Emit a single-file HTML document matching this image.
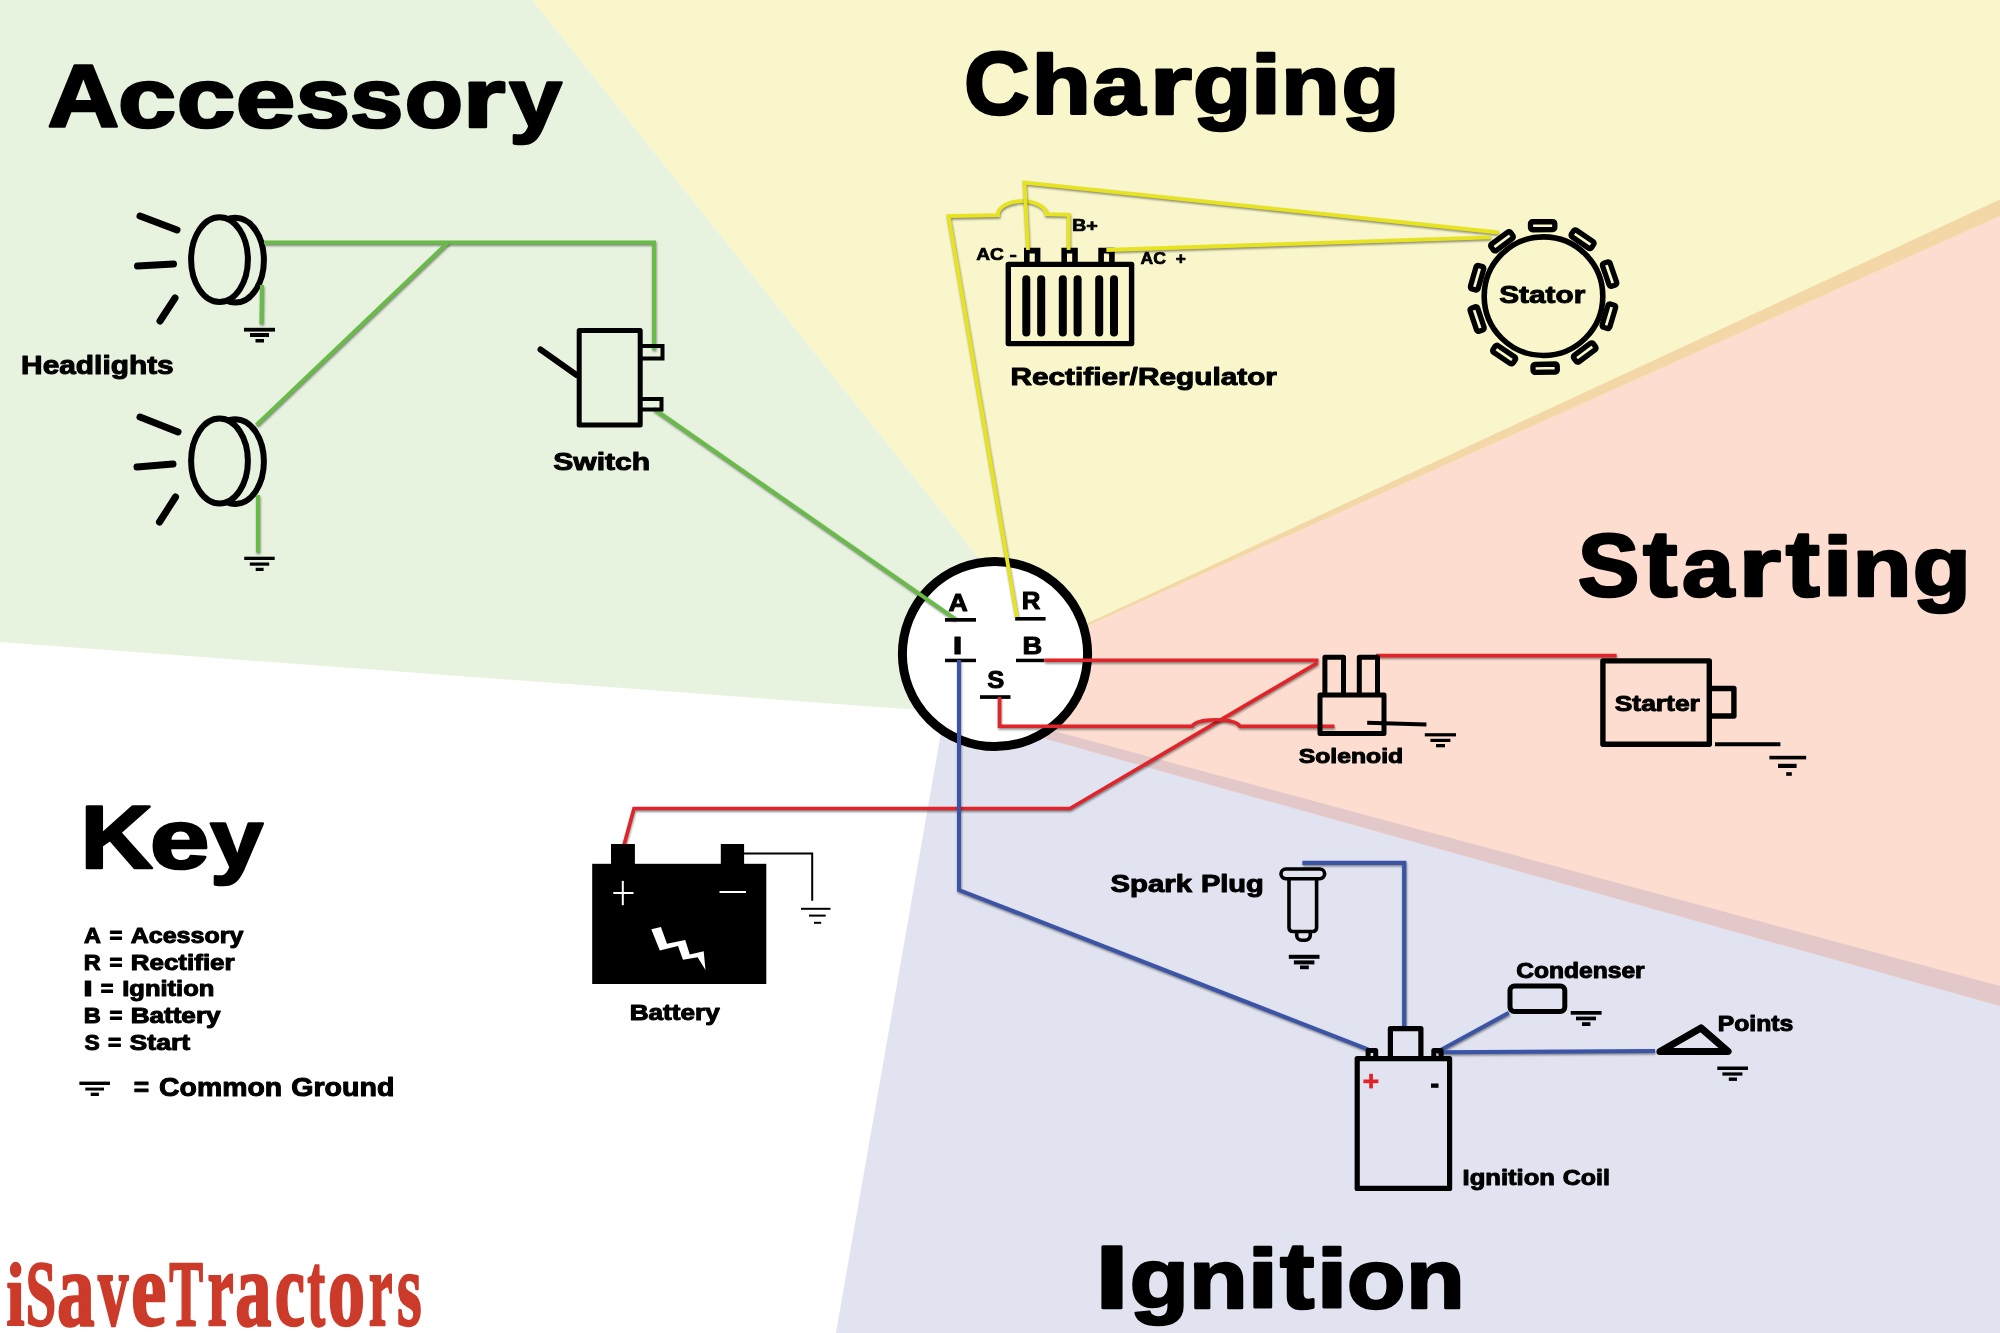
<!DOCTYPE html>
<html><head><meta charset="utf-8"><title>Tractor Wiring Diagram</title>
<style>html,body{margin:0;padding:0;background:#fff;}svg{display:block;will-change:transform;}</style></head>
<body><svg width="2000" height="1333" viewBox="0 0 2000 1333">
<rect width="2000" height="1333" fill="#fff"/>
<polygon points="835.93,1333.00 2000.00,1333.00 2000.00,986.03 1000.00,716.52 946.70,700.00" fill="#e1e3f1"/>
<polygon points="2000.00,199.49 2000.00,1006.00 1000.00,726.00 1040.00,645.22" fill="#fcddd0"/>
<polygon points="532.00,0.00 2000.00,0.00 2000.00,216.00 1040.00,646.95 1028.00,620.00" fill="#f8f6ca"/>
<polygon points="0.00,0.00 532.00,0.00 1028.00,620.00 950.00,712.30 0.00,642.00" fill="#e7f3df"/>
<polygon points="1040.00,645.22 2000.00,199.49 2000.00,216.00 1040.00,646.95" fill="#f4d7a7"/>
<polygon points="1000.00,716.52 2000.00,986.03 2000.00,1006.00 1000.00,726.00" fill="#e3c8ca"/>
<defs><filter id="blur" filterUnits="userSpaceOnUse" x="-10" y="-10" width="2020" height="1353"><feGaussianBlur stdDeviation="0.8"/></filter></defs>
<circle cx="995" cy="654" r="92.6" stroke="#000" stroke-width="9" fill="#fff"/>
<ellipse cx="235.5" cy="260.20000000000005" rx="28.4" ry="42.4" stroke="#000" stroke-width="6" fill="none"/>
<ellipse cx="219.5" cy="259.6" rx="28.4" ry="42.4" stroke="#000" stroke-width="6" fill="#e7f3df"/>
<path d="M140,216 L177,230" stroke="#000" stroke-width="7" fill="none" stroke-linecap="round"/>
<path d="M137.5,266 L173.5,264" stroke="#000" stroke-width="7" fill="none" stroke-linecap="round"/>
<path d="M160,321 L175,298" stroke="#000" stroke-width="7" fill="none" stroke-linecap="round"/>
<ellipse cx="235.5" cy="461.6" rx="28.4" ry="42.4" stroke="#000" stroke-width="6" fill="none"/>
<ellipse cx="219.5" cy="461.0" rx="28.4" ry="42.4" stroke="#000" stroke-width="6" fill="#e7f3df"/>
<path d="M140,417 L178,432" stroke="#000" stroke-width="7" fill="none" stroke-linecap="round"/>
<path d="M137,467 L173,464" stroke="#000" stroke-width="7" fill="none" stroke-linecap="round"/>
<path d="M159.5,522 L175.5,497" stroke="#000" stroke-width="7" fill="none" stroke-linecap="round"/>
<path d="M264,242.5 H654 V350" stroke="#000" stroke-opacity="0.45" stroke-width="4" fill="none" transform="translate(0.6,1.6)" stroke-linejoin="miter" filter="url(#blur)"/>
<path d="M264,242.5 H654 V350" stroke="#69ba48" stroke-width="4" fill="none" stroke-linejoin="miter"/>
<path d="M448,242.5 L256.5,425" stroke="#000" stroke-opacity="0.45" stroke-width="4" fill="none" transform="translate(0.6,1.6)" stroke-linejoin="miter" filter="url(#blur)"/>
<path d="M448,242.5 L256.5,425" stroke="#69ba48" stroke-width="4" fill="none" stroke-linejoin="miter"/>
<path d="M262,285 L261.5,324" stroke="#000" stroke-opacity="0.45" stroke-width="4" fill="none" transform="translate(0.6,1.6)" stroke-linejoin="miter" filter="url(#blur)"/>
<path d="M262,285 L261.5,324" stroke="#69ba48" stroke-width="4" fill="none" stroke-linejoin="miter"/>
<path d="M258,495 L258,552.5" stroke="#000" stroke-opacity="0.45" stroke-width="4" fill="none" transform="translate(0.6,1.6)" stroke-linejoin="miter" filter="url(#blur)"/>
<path d="M258,495 L258,552.5" stroke="#69ba48" stroke-width="4" fill="none" stroke-linejoin="miter"/>
<path d="M654,409 L955.8,619.3" stroke="#000" stroke-opacity="0.45" stroke-width="4" fill="none" transform="translate(0.6,1.6)" stroke-linejoin="miter" filter="url(#blur)"/>
<path d="M654,409 L955.8,619.3" stroke="#69ba48" stroke-width="4" fill="none" stroke-linejoin="miter"/>
<rect x="244.00" y="327.80" width="31.00" height="3.80" fill="#000" />
<rect x="250.00" y="333.00" width="19.00" height="4.00" fill="#000" />
<rect x="255.50" y="339.00" width="8.50" height="3.50" fill="#000" />
<rect x="244.20" y="556.70" width="30.50" height="3.30" fill="#000" />
<rect x="249.80" y="562.50" width="19.40" height="3.20" fill="#000" />
<rect x="255.70" y="567.80" width="7.90" height="3.20" fill="#000" />
<path d="M579.2,330.5 H640.2 V425 H579.2 Z" stroke="#000" stroke-width="5" fill="none" stroke-linejoin="round"/>
<path d="M540.5,349.5 L576.5,375" stroke="#000" stroke-width="6" fill="none" stroke-linecap="round"/>
<path d="M640.2,346 H662.5 V358.5 H640.2" stroke="#000" stroke-width="4" fill="none" />
<path d="M640.2,399 H661.5 V409.5 H640.2" stroke="#000" stroke-width="4" fill="none" />
<rect x="945.00" y="618.00" width="31.00" height="3.70" fill="#000" />
<rect x="1015.20" y="617.00" width="30.40" height="3.60" fill="#000" />
<rect x="945.00" y="658.70" width="31.00" height="3.50" fill="#000" />
<rect x="1016.00" y="658.70" width="28.40" height="3.50" fill="#000" />
<rect x="980.00" y="695.20" width="30.50" height="3.70" fill="#000" />
<path d="M1008.3,264.4 H1131.6 V343.6 H1008.3 Z" stroke="#000" stroke-width="5.4" fill="none" stroke-linejoin="round"/>
<path d="M1026.8,263.5 V250.6 H1037.6 V263.5" stroke="#000" stroke-width="5.6" fill="none" />
<path d="M1064.2,263.5 V250.6 H1075.0 V263.5" stroke="#000" stroke-width="5.6" fill="none" />
<path d="M1101.1,263.5 V250.6 H1111.8999999999999 V263.5" stroke="#000" stroke-width="5.6" fill="none" />
<path d="M1026.3,279.2 V332.4" stroke="#000" stroke-width="8" fill="none" stroke-linecap="round"/>
<path d="M1041.2,279.2 V332.4" stroke="#000" stroke-width="8" fill="none" stroke-linecap="round"/>
<path d="M1062.8,279.2 V332.4" stroke="#000" stroke-width="8" fill="none" stroke-linecap="round"/>
<path d="M1077.6,279.2 V332.4" stroke="#000" stroke-width="8" fill="none" stroke-linecap="round"/>
<path d="M1099.2,279.2 V332.4" stroke="#000" stroke-width="8" fill="none" stroke-linecap="round"/>
<path d="M1114,279.2 V332.4" stroke="#000" stroke-width="8" fill="none" stroke-linecap="round"/>
<path d="M1016.8,617 L948.6,216.2 L998,215.2 A24.2,13.6 0 0 1 1046.4,214.2 L1068.6,214.8 V250" stroke="#000" stroke-opacity="0.45" stroke-width="3.8" fill="none" transform="translate(0.6,1.6)" stroke-linejoin="miter" filter="url(#blur)"/>
<path d="M1016.8,617 L948.6,216.2 L998,215.2 A24.2,13.6 0 0 1 1046.4,214.2 L1068.6,214.8 V250" stroke="#e7e41f" stroke-width="3.8" fill="none" stroke-linejoin="miter"/>
<path d="M1028,250 L1024.5,182.5 L1498.5,232.5" stroke="#000" stroke-opacity="0.45" stroke-width="3.8" fill="none" transform="translate(0.6,1.6)" stroke-linejoin="miter" filter="url(#blur)"/>
<path d="M1028,250 L1024.5,182.5 L1498.5,232.5" stroke="#e7e41f" stroke-width="3.8" fill="none" stroke-linejoin="miter"/>
<path d="M1106.4,250 L1490.6,237.3" stroke="#000" stroke-opacity="0.45" stroke-width="3.8" fill="none" transform="translate(0.6,1.6)" stroke-linejoin="miter" filter="url(#blur)"/>
<path d="M1106.4,250 L1490.6,237.3" stroke="#e7e41f" stroke-width="3.8" fill="none" stroke-linejoin="miter"/>
<circle cx="1543.5" cy="296.2" r="59.3" stroke="#000" stroke-width="5.6" fill="none"/>
<rect x="-12.15" y="-75.20" width="24.3" height="8" rx="2" stroke="#000" stroke-width="5.3" fill="none" transform="translate(1543.4,296.85) rotate(-0.6)"/>
<rect x="-12.15" y="-73.70" width="24.3" height="8" rx="2" stroke="#000" stroke-width="5.3" fill="none" transform="translate(1543.4,296.85) rotate(34.2)"/>
<rect x="-12.15" y="-74.00" width="24.3" height="8" rx="2" stroke="#000" stroke-width="5.3" fill="none" transform="translate(1543.4,296.85) rotate(71)"/>
<rect x="-12.15" y="-72.30" width="24.3" height="8" rx="2" stroke="#000" stroke-width="5.3" fill="none" transform="translate(1543.4,296.85) rotate(106.5)"/>
<rect x="-12.15" y="-73.30" width="24.3" height="8" rx="2" stroke="#000" stroke-width="5.3" fill="none" transform="translate(1543.4,296.85) rotate(143.4)"/>
<rect x="-12.15" y="-75.40" width="24.3" height="8" rx="2" stroke="#000" stroke-width="5.3" fill="none" transform="translate(1543.4,296.85) rotate(178.6)"/>
<rect x="-12.15" y="-73.80" width="24.3" height="8" rx="2" stroke="#000" stroke-width="5.3" fill="none" transform="translate(1543.4,296.85) rotate(214.2)"/>
<rect x="-12.15" y="-73.90" width="24.3" height="8" rx="2" stroke="#000" stroke-width="5.3" fill="none" transform="translate(1543.4,296.85) rotate(251.5)"/>
<rect x="-12.15" y="-73.00" width="24.3" height="8" rx="2" stroke="#000" stroke-width="5.3" fill="none" transform="translate(1543.4,296.85) rotate(286.1)"/>
<rect x="-12.15" y="-73.30" width="24.3" height="8" rx="2" stroke="#000" stroke-width="5.3" fill="none" transform="translate(1543.4,296.85) rotate(323.3)"/>
<path d="M1044.4,660.3 H1318.4" stroke="#000" stroke-opacity="0.45" stroke-width="3.6" fill="none" transform="translate(0.6,1.6)" stroke-linejoin="miter" filter="url(#blur)"/>
<path d="M1044.4,660.3 H1318.4" stroke="#e02429" stroke-width="3.6" fill="none" stroke-linejoin="miter"/>
<path d="M1317.6,662.8 L1070,808.5 H634 L624,845" stroke="#000" stroke-opacity="0.45" stroke-width="3.6" fill="none" transform="translate(0.6,1.6)" stroke-linejoin="miter" filter="url(#blur)"/>
<path d="M1317.6,662.8 L1070,808.5 H634 L624,845" stroke="#e02429" stroke-width="3.6" fill="none" stroke-linejoin="miter"/>
<path d="M999.5,697 V726.3 H1192 C1197,717.5 1235,717.5 1240,726.3 H1334.4" stroke="#000" stroke-opacity="0.45" stroke-width="3.6" fill="none" transform="translate(0.6,1.6)" stroke-linejoin="miter" filter="url(#blur)"/>
<path d="M999.5,697 V726.3 H1192 C1197,717.5 1235,717.5 1240,726.3 H1334.4" stroke="#e02429" stroke-width="3.6" fill="none" stroke-linejoin="miter"/>
<path d="M1376,655.6 H1616.6" stroke="#000" stroke-opacity="0.45" stroke-width="3.6" fill="none" transform="translate(0.6,1.6)" stroke-linejoin="miter" filter="url(#blur)"/>
<path d="M1376,655.6 H1616.6" stroke="#e02429" stroke-width="3.6" fill="none" stroke-linejoin="miter"/>
<path d="M1320,695 H1384 V733.5 H1320 Z" stroke="#000" stroke-width="5" fill="none" stroke-linejoin="round"/>
<path d="M1324.9,695 V657.3 H1343.5 V695" stroke="#000" stroke-width="5" fill="none" stroke-linejoin="round"/>
<path d="M1359.3,695 V657.3 H1377.5 V695" stroke="#000" stroke-width="5" fill="none" stroke-linejoin="round"/>
<path d="M1367.2,722.8 L1426.4,724.4" stroke="#000" stroke-width="4" fill="none" />
<rect x="1424.80" y="733.20" width="31.20" height="3.20" fill="#000" />
<rect x="1430.40" y="738.80" width="20.00" height="3.20" fill="#000" />
<rect x="1436.00" y="744.00" width="9.00" height="3.30" fill="#000" />
<path d="M1602.9,660.9 H1709.3 V744.3 H1602.9 Z" stroke="#000" stroke-width="5.4" fill="none" stroke-linejoin="round"/>
<path d="M1709.3,688.5 H1733.9 V716 H1709.3" stroke="#000" stroke-width="5.4" fill="none" stroke-linejoin="round"/>
<path d="M1715,744.2 H1780.4" stroke="#000" stroke-width="4" fill="none" />
<rect x="1769.40" y="755.80" width="36.80" height="3.60" fill="#000" />
<rect x="1778.00" y="763.80" width="18.60" height="4.20" fill="#000" />
<rect x="1786.20" y="772.20" width="5.60" height="3.60" fill="#000" />
<rect x="592.20" y="863.80" width="174.10" height="120.20" fill="#000" />
<rect x="611.00" y="844.00" width="23.90" height="20.00" fill="#000" />
<rect x="720.80" y="844.00" width="23.30" height="20.00" fill="#000" />
<rect x="613.30" y="892.00" width="20.20" height="2.00" fill="#fff" />
<rect x="621.80" y="880.90" width="2.00" height="24.30" fill="#fff" />
<rect x="719.50" y="891.00" width="26.50" height="2.00" fill="#fff" />
<polygon points="651.3,929.2 660.9,926.9 667.0,943.8 685.2,940.0 689.8,954.6 703.7,951.2 705.5,969.9 697.6,957.3 683.0,959.8 678.0,946.1 659.8,950.6" fill="#fff"/>
<path d="M744,853.4 H812.2 V900.7" stroke="#000" stroke-width="2" fill="none" />
<rect x="801.00" y="907.80" width="29.50" height="2.00" fill="#000" />
<rect x="809.00" y="914.60" width="16.70" height="2.00" fill="#000" />
<rect x="814.00" y="921.80" width="7.20" height="2.00" fill="#000" />
<path d="M959,660 V890 L1368,1049.4" stroke="#000" stroke-opacity="0.45" stroke-width="4" fill="none" transform="translate(0.6,1.6)" stroke-linejoin="miter" filter="url(#blur)"/>
<path d="M959,660 V890 L1368,1049.4" stroke="#3b54a5" stroke-width="4" fill="none" stroke-linejoin="miter"/>
<path d="M1302.4,862.8 H1404.2 V1027" stroke="#000" stroke-opacity="0.45" stroke-width="4.2" fill="none" transform="translate(0.6,1.6)" stroke-linejoin="miter" filter="url(#blur)"/>
<path d="M1302.4,862.8 H1404.2 V1027" stroke="#3b54a5" stroke-width="4.2" fill="none" stroke-linejoin="miter"/>
<path d="M1436.6,1052.2 L1508.8,1012.8" stroke="#000" stroke-opacity="0.45" stroke-width="4" fill="none" transform="translate(0.6,1.6)" stroke-linejoin="miter" filter="url(#blur)"/>
<path d="M1436.6,1052.2 L1508.8,1012.8" stroke="#3b54a5" stroke-width="4" fill="none" stroke-linejoin="miter"/>
<path d="M1439.4,1052.2 L1655,1051" stroke="#000" stroke-opacity="0.45" stroke-width="4" fill="none" transform="translate(0.6,1.6)" stroke-linejoin="miter" filter="url(#blur)"/>
<path d="M1439.4,1052.2 L1655,1051" stroke="#3b54a5" stroke-width="4" fill="none" stroke-linejoin="miter"/>
<path d="M1285.8,869 H1319.8 A4.8,4.8 0 0 1 1319.8,878.7 H1285.8 A4.8,4.8 0 0 1 1285.8,869 Z" stroke="#000" stroke-width="3.6" fill="none" />
<path d="M1289,878.7 V927.5 Q1289,931.5 1293,931.5 H1312.6 Q1316.6,931.5 1316.6,927.5 V878.7" stroke="#000" stroke-width="3.6" fill="none" />
<path d="M1296.7,931.5 V935.3 A5,5 0 0 0 1301.7,940.3 H1305.3 A5,5 0 0 0 1310.3,935.3 V931.5" stroke="#000" stroke-width="3.6" fill="none" />
<rect x="1288.80" y="954.80" width="30.70" height="4.00" fill="#000" />
<rect x="1293.90" y="960.40" width="20.50" height="4.00" fill="#000" />
<rect x="1300.00" y="965.50" width="8.80" height="3.70" fill="#000" />
<path d="M1357.2,1058.6 H1449.6 V1188.4 H1357.2 Z" stroke="#000" stroke-width="5.2" fill="none" stroke-linejoin="round"/>
<path d="M1390.4,1058 V1028.6 H1420.9 V1058" stroke="#000" stroke-width="5.2" fill="none" stroke-linejoin="round"/>
<path d="M1368.1,1058 V1050.5 H1375.7 V1058" stroke="#000" stroke-width="5" fill="none" stroke-linejoin="round"/>
<path d="M1433.8,1058 V1050.5 H1441.1 V1058" stroke="#000" stroke-width="5" fill="none" stroke-linejoin="round"/>
<rect x="1363.40" y="1079.50" width="15.00" height="3.70" fill="#e32228" />
<rect x="1369.20" y="1073.80" width="3.70" height="14.60" fill="#e32228" />
<rect x="1431.00" y="1083.50" width="7.50" height="4.30" fill="#000" />
<rect x="1510" y="986" width="54.8" height="25.6" rx="4.5" stroke="#000" stroke-width="5" fill="none"/>
<rect x="1570.70" y="1011.00" width="30.90" height="3.70" fill="#000" />
<rect x="1576.00" y="1016.60" width="20.00" height="3.70" fill="#000" />
<rect x="1582.00" y="1022.20" width="8.40" height="3.80" fill="#000" />
<path d="M1660,1051.5 L1701,1028 L1728,1051.5 Z" stroke="#000" stroke-width="7.2" fill="none" stroke-linejoin="round"/>
<rect x="1717.30" y="1066.50" width="30.70" height="3.50" fill="#000" />
<rect x="1722.40" y="1072.40" width="20.00" height="3.20" fill="#000" />
<rect x="1728.80" y="1077.50" width="8.20" height="3.40" fill="#000" />
<rect x="79.35" y="1081.60" width="30.65" height="3.40" fill="#000" />
<rect x="85.30" y="1087.60" width="18.70" height="2.90" fill="#000" />
<rect x="90.70" y="1092.70" width="8.20" height="3.30" fill="#000" />
<text x="47.63" y="127.30" font-family="Liberation Sans" font-weight="bold" font-size="89.50" textLength="71.69" lengthAdjust="spacingAndGlyphs" fill="#000" stroke="#000" stroke-width="2.6" stroke-linejoin="round" >A</text>
<text x="117.92" y="127.30" font-family="Liberation Sans" font-weight="bold" font-size="83.70" textLength="58.15" lengthAdjust="spacingAndGlyphs" fill="#000" stroke="#000" stroke-width="2.6" stroke-linejoin="round" >c</text>
<text x="176.88" y="127.30" font-family="Liberation Sans" font-weight="bold" font-size="83.70" textLength="58.60" lengthAdjust="spacingAndGlyphs" fill="#000" stroke="#000" stroke-width="2.6" stroke-linejoin="round" >c</text>
<text x="235.81" y="127.30" font-family="Liberation Sans" font-weight="bold" font-size="83.70" textLength="59.66" lengthAdjust="spacingAndGlyphs" fill="#000" stroke="#000" stroke-width="2.6" stroke-linejoin="round" >e</text>
<text x="295.77" y="127.30" font-family="Liberation Sans" font-weight="bold" font-size="83.70" textLength="54.23" lengthAdjust="spacingAndGlyphs" fill="#000" stroke="#000" stroke-width="2.6" stroke-linejoin="round" >s</text>
<text x="349.93" y="127.30" font-family="Liberation Sans" font-weight="bold" font-size="83.70" textLength="53.30" lengthAdjust="spacingAndGlyphs" fill="#000" stroke="#000" stroke-width="2.6" stroke-linejoin="round" >s</text>
<text x="404.87" y="127.30" font-family="Liberation Sans" font-weight="bold" font-size="83.70" textLength="58.25" lengthAdjust="spacingAndGlyphs" fill="#000" stroke="#000" stroke-width="2.6" stroke-linejoin="round" >o</text>
<text x="462.87" y="127.30" font-family="Liberation Sans" font-weight="bold" font-size="83.70" textLength="42.69" lengthAdjust="spacingAndGlyphs" fill="#000" stroke="#000" stroke-width="2.6" stroke-linejoin="round" >r</text>
<text x="509.16" y="127.30" font-family="Liberation Sans" font-weight="bold" font-size="83.70" textLength="52.65" lengthAdjust="spacingAndGlyphs" fill="#000" stroke="#000" stroke-width="2.6" stroke-linejoin="round" >y</text>
<text x="964.07" y="114.00" font-family="Liberation Sans" font-weight="bold" font-size="89.50" textLength="65.72" lengthAdjust="spacingAndGlyphs" fill="#000" stroke="#000" stroke-width="2.6" stroke-linejoin="round" >C</text>
<text x="1031.41" y="114.00" font-family="Liberation Sans" font-weight="bold" font-size="83.70" textLength="59.43" lengthAdjust="spacingAndGlyphs" fill="#000" stroke="#000" stroke-width="2.6" stroke-linejoin="round" >h</text>
<text x="1092.62" y="114.00" font-family="Liberation Sans" font-weight="bold" font-size="83.70" textLength="52.78" lengthAdjust="spacingAndGlyphs" fill="#000" stroke="#000" stroke-width="2.6" stroke-linejoin="round" >a</text>
<text x="1149.85" y="114.00" font-family="Liberation Sans" font-weight="bold" font-size="83.70" textLength="42.19" lengthAdjust="spacingAndGlyphs" fill="#000" stroke="#000" stroke-width="2.6" stroke-linejoin="round" >r</text>
<text x="1193.09" y="114.00" font-family="Liberation Sans" font-weight="bold" font-size="83.70" textLength="58.30" lengthAdjust="spacingAndGlyphs" fill="#000" stroke="#000" stroke-width="2.6" stroke-linejoin="round" >g</text>
<text x="1250.31" y="114.00" font-family="Liberation Sans" font-weight="bold" font-size="83.70" textLength="31.39" lengthAdjust="spacingAndGlyphs" fill="#000" stroke="#000" stroke-width="2.6" stroke-linejoin="round" >i</text>
<text x="1280.95" y="114.00" font-family="Liberation Sans" font-weight="bold" font-size="83.70" textLength="58.82" lengthAdjust="spacingAndGlyphs" fill="#000" stroke="#000" stroke-width="2.6" stroke-linejoin="round" >n</text>
<text x="1341.40" y="114.00" font-family="Liberation Sans" font-weight="bold" font-size="83.70" textLength="58.06" lengthAdjust="spacingAndGlyphs" fill="#000" stroke="#000" stroke-width="2.6" stroke-linejoin="round" >g</text>
<text x="1577.84" y="596.20" font-family="Liberation Sans" font-weight="bold" font-size="89.50" textLength="61.68" lengthAdjust="spacingAndGlyphs" fill="#000" stroke="#000" stroke-width="2.6" stroke-linejoin="round" >S</text>
<text x="1643.03" y="596.20" font-family="Liberation Sans" font-weight="bold" font-size="94.00" textLength="34.53" lengthAdjust="spacingAndGlyphs" fill="#000" stroke="#000" stroke-width="2.6" stroke-linejoin="round" >t</text>
<text x="1681.96" y="596.20" font-family="Liberation Sans" font-weight="bold" font-size="83.70" textLength="52.05" lengthAdjust="spacingAndGlyphs" fill="#000" stroke="#000" stroke-width="2.6" stroke-linejoin="round" >a</text>
<text x="1738.41" y="596.20" font-family="Liberation Sans" font-weight="bold" font-size="83.70" textLength="42.44" lengthAdjust="spacingAndGlyphs" fill="#000" stroke="#000" stroke-width="2.6" stroke-linejoin="round" >r</text>
<text x="1785.75" y="596.20" font-family="Liberation Sans" font-weight="bold" font-size="94.00" textLength="34.10" lengthAdjust="spacingAndGlyphs" fill="#000" stroke="#000" stroke-width="2.6" stroke-linejoin="round" >t</text>
<text x="1822.47" y="596.20" font-family="Liberation Sans" font-weight="bold" font-size="83.70" textLength="30.37" lengthAdjust="spacingAndGlyphs" fill="#000" stroke="#000" stroke-width="2.6" stroke-linejoin="round" >i</text>
<text x="1852.63" y="596.20" font-family="Liberation Sans" font-weight="bold" font-size="83.70" textLength="59.07" lengthAdjust="spacingAndGlyphs" fill="#000" stroke="#000" stroke-width="2.6" stroke-linejoin="round" >n</text>
<text x="1912.80" y="596.20" font-family="Liberation Sans" font-weight="bold" font-size="83.70" textLength="58.06" lengthAdjust="spacingAndGlyphs" fill="#000" stroke="#000" stroke-width="2.6" stroke-linejoin="round" >g</text>
<text x="80.41" y="868.10" font-family="Liberation Sans" font-weight="bold" font-size="89.50" textLength="72.22" lengthAdjust="spacingAndGlyphs" fill="#000" stroke="#000" stroke-width="2.6" stroke-linejoin="round" >K</text>
<text x="149.93" y="868.10" font-family="Liberation Sans" font-weight="bold" font-size="83.70" textLength="59.43" lengthAdjust="spacingAndGlyphs" fill="#000" stroke="#000" stroke-width="2.6" stroke-linejoin="round" >e</text>
<text x="210.36" y="868.10" font-family="Liberation Sans" font-weight="bold" font-size="83.70" textLength="52.85" lengthAdjust="spacingAndGlyphs" fill="#000" stroke="#000" stroke-width="2.6" stroke-linejoin="round" >y</text>
<text x="1094.93" y="1307.50" font-family="Liberation Sans" font-weight="bold" font-size="89.50" textLength="33.95" lengthAdjust="spacingAndGlyphs" fill="#000" stroke="#000" stroke-width="2.6" stroke-linejoin="round" >I</text>
<text x="1129.83" y="1307.50" font-family="Liberation Sans" font-weight="bold" font-size="83.70" textLength="59.15" lengthAdjust="spacingAndGlyphs" fill="#000" stroke="#000" stroke-width="2.6" stroke-linejoin="round" >g</text>
<text x="1188.97" y="1307.50" font-family="Liberation Sans" font-weight="bold" font-size="83.70" textLength="58.69" lengthAdjust="spacingAndGlyphs" fill="#000" stroke="#000" stroke-width="2.6" stroke-linejoin="round" >n</text>
<text x="1247.26" y="1307.50" font-family="Liberation Sans" font-weight="bold" font-size="83.70" textLength="31.18" lengthAdjust="spacingAndGlyphs" fill="#000" stroke="#000" stroke-width="2.6" stroke-linejoin="round" >i</text>
<text x="1280.04" y="1307.50" font-family="Liberation Sans" font-weight="bold" font-size="94.00" textLength="34.42" lengthAdjust="spacingAndGlyphs" fill="#000" stroke="#000" stroke-width="2.6" stroke-linejoin="round" >t</text>
<text x="1316.16" y="1307.50" font-family="Liberation Sans" font-weight="bold" font-size="83.70" textLength="31.59" lengthAdjust="spacingAndGlyphs" fill="#000" stroke="#000" stroke-width="2.6" stroke-linejoin="round" >i</text>
<text x="1347.07" y="1307.50" font-family="Liberation Sans" font-weight="bold" font-size="83.70" textLength="58.36" lengthAdjust="spacingAndGlyphs" fill="#000" stroke="#000" stroke-width="2.6" stroke-linejoin="round" >o</text>
<text x="1405.97" y="1307.50" font-family="Liberation Sans" font-weight="bold" font-size="83.70" textLength="58.69" lengthAdjust="spacingAndGlyphs" fill="#000" stroke="#000" stroke-width="2.6" stroke-linejoin="round" >n</text>
<text x="21.10" y="374.15" font-family="Liberation Sans" font-weight="bold" font-size="25.05" textLength="152.62" lengthAdjust="spacingAndGlyphs" fill="#000" stroke="#000" stroke-width="1.0" stroke-linejoin="round" >Headlights</text>
<text x="553.28" y="469.70" font-family="Liberation Sans" font-weight="bold" font-size="24.05" textLength="96.98" lengthAdjust="spacingAndGlyphs" fill="#000" stroke="#000" stroke-width="1.0" stroke-linejoin="round" >Switch</text>
<text x="1010.41" y="384.50" font-family="Liberation Sans" font-weight="bold" font-size="24.55" textLength="266.54" lengthAdjust="spacingAndGlyphs" fill="#000" stroke="#000" stroke-width="1.0" stroke-linejoin="round" >Rectifier/Regulator</text>
<text x="1499.24" y="302.80" font-family="Liberation Sans" font-weight="bold" font-size="24.55" textLength="86.11" lengthAdjust="spacingAndGlyphs" fill="#000" stroke="#000" stroke-width="1.0" stroke-linejoin="round" >Stator</text>
<text x="1072.03" y="230.65" font-family="Liberation Sans" font-weight="bold" font-size="16.48" textLength="25.82" lengthAdjust="spacingAndGlyphs" fill="#000" stroke="#000" stroke-width="0.7" stroke-linejoin="round" >B+</text>
<text x="1298.69" y="763.10" font-family="Liberation Sans" font-weight="bold" font-size="20.55" textLength="104.44" lengthAdjust="spacingAndGlyphs" fill="#000" stroke="#000" stroke-width="1.0" stroke-linejoin="round" >Solenoid</text>
<text x="1614.74" y="711.10" font-family="Liberation Sans" font-weight="bold" font-size="22.05" textLength="85.16" lengthAdjust="spacingAndGlyphs" fill="#000" stroke="#000" stroke-width="1.0" stroke-linejoin="round" >Starter</text>
<text x="629.76" y="1020.20" font-family="Liberation Sans" font-weight="bold" font-size="21.35" textLength="89.89" lengthAdjust="spacingAndGlyphs" fill="#000" stroke="#000" stroke-width="1.0" stroke-linejoin="round" >Battery</text>
<text x="1516.29" y="977.50" font-family="Liberation Sans" font-weight="bold" font-size="21.25" textLength="128.38" lengthAdjust="spacingAndGlyphs" fill="#000" stroke="#000" stroke-width="1.0" stroke-linejoin="round" >Condenser</text>
<text x="1717.75" y="1030.80" font-family="Liberation Sans" font-weight="bold" font-size="21.35" textLength="75.57" lengthAdjust="spacingAndGlyphs" fill="#000" stroke="#000" stroke-width="1.0" stroke-linejoin="round" >Points</text>
<text x="976.27" y="259.65" font-family="Liberation Sans" font-weight="bold" font-size="16.48" textLength="27.70" lengthAdjust="spacingAndGlyphs" fill="#000" stroke="#000" stroke-width="0.7" stroke-linejoin="round" >AC</text>
<text x="1009.59" y="259.65" font-family="Liberation Sans" font-weight="bold" font-size="16.48" textLength="7.34" lengthAdjust="spacingAndGlyphs" fill="#000" stroke="#000" stroke-width="0.7" stroke-linejoin="round" >-</text>
<text x="1140.51" y="264.05" font-family="Liberation Sans" font-weight="bold" font-size="16.48" textLength="25.42" lengthAdjust="spacingAndGlyphs" fill="#000" stroke="#000" stroke-width="0.7" stroke-linejoin="round" >AC</text>
<text x="1175.82" y="264.05" font-family="Liberation Sans" font-weight="bold" font-size="16.48" textLength="10.13" lengthAdjust="spacingAndGlyphs" fill="#000" stroke="#000" stroke-width="0.7" stroke-linejoin="round" >+</text>
<text x="84.02" y="942.80" font-family="Liberation Sans" font-weight="bold" font-size="21.25" textLength="16.90" lengthAdjust="spacingAndGlyphs" fill="#000" stroke="#000" stroke-width="1.0" stroke-linejoin="round" >A</text>
<text x="109.58" y="942.80" font-family="Liberation Sans" font-weight="bold" font-size="21.25" textLength="12.93" lengthAdjust="spacingAndGlyphs" fill="#000" stroke="#000" stroke-width="1.0" stroke-linejoin="round" >=</text>
<text x="130.78" y="942.80" font-family="Liberation Sans" font-weight="bold" font-size="21.25" textLength="112.56" lengthAdjust="spacingAndGlyphs" fill="#000" stroke="#000" stroke-width="1.0" stroke-linejoin="round" >Acessory</text>
<text x="83.83" y="969.60" font-family="Liberation Sans" font-weight="bold" font-size="21.25" textLength="16.95" lengthAdjust="spacingAndGlyphs" fill="#000" stroke="#000" stroke-width="1.0" stroke-linejoin="round" >R</text>
<text x="109.58" y="969.60" font-family="Liberation Sans" font-weight="bold" font-size="21.25" textLength="12.93" lengthAdjust="spacingAndGlyphs" fill="#000" stroke="#000" stroke-width="1.0" stroke-linejoin="round" >=</text>
<text x="130.66" y="969.60" font-family="Liberation Sans" font-weight="bold" font-size="21.25" textLength="104.03" lengthAdjust="spacingAndGlyphs" fill="#000" stroke="#000" stroke-width="1.0" stroke-linejoin="round" >Rectifier</text>
<text x="83.32" y="996.30" font-family="Liberation Sans" font-weight="bold" font-size="21.25" textLength="9.45" lengthAdjust="spacingAndGlyphs" fill="#000" stroke="#000" stroke-width="1.0" stroke-linejoin="round" >I</text>
<text x="100.70" y="996.30" font-family="Liberation Sans" font-weight="bold" font-size="21.25" textLength="12.69" lengthAdjust="spacingAndGlyphs" fill="#000" stroke="#000" stroke-width="1.0" stroke-linejoin="round" >=</text>
<text x="122.19" y="996.30" font-family="Liberation Sans" font-weight="bold" font-size="21.25" textLength="92.19" lengthAdjust="spacingAndGlyphs" fill="#000" stroke="#000" stroke-width="1.0" stroke-linejoin="round" >Ignition</text>
<text x="83.82" y="1023.00" font-family="Liberation Sans" font-weight="bold" font-size="21.25" textLength="17.05" lengthAdjust="spacingAndGlyphs" fill="#000" stroke="#000" stroke-width="1.0" stroke-linejoin="round" >B</text>
<text x="109.58" y="1023.00" font-family="Liberation Sans" font-weight="bold" font-size="21.25" textLength="12.93" lengthAdjust="spacingAndGlyphs" fill="#000" stroke="#000" stroke-width="1.0" stroke-linejoin="round" >=</text>
<text x="130.66" y="1023.00" font-family="Liberation Sans" font-weight="bold" font-size="21.25" textLength="89.89" lengthAdjust="spacingAndGlyphs" fill="#000" stroke="#000" stroke-width="1.0" stroke-linejoin="round" >Battery</text>
<text x="84.44" y="1049.70" font-family="Liberation Sans" font-weight="bold" font-size="21.25" textLength="15.25" lengthAdjust="spacingAndGlyphs" fill="#000" stroke="#000" stroke-width="1.0" stroke-linejoin="round" >S</text>
<text x="107.96" y="1049.70" font-family="Liberation Sans" font-weight="bold" font-size="21.25" textLength="13.28" lengthAdjust="spacingAndGlyphs" fill="#000" stroke="#000" stroke-width="1.0" stroke-linejoin="round" >=</text>
<text x="129.64" y="1049.70" font-family="Liberation Sans" font-weight="bold" font-size="21.25" textLength="60.49" lengthAdjust="spacingAndGlyphs" fill="#000" stroke="#000" stroke-width="1.0" stroke-linejoin="round" >Start</text>
<text x="133.71" y="1096.10" font-family="Liberation Sans" font-weight="bold" font-size="25.55" textLength="15.37" lengthAdjust="spacingAndGlyphs" fill="#000" stroke="#000" stroke-width="1.0" stroke-linejoin="round" >=</text>
<text x="159.14" y="1096.10" font-family="Liberation Sans" font-weight="bold" font-size="25.55" textLength="122.92" lengthAdjust="spacingAndGlyphs" fill="#000" stroke="#000" stroke-width="1.0" stroke-linejoin="round" >Common</text>
<text x="291.23" y="1096.10" font-family="Liberation Sans" font-weight="bold" font-size="25.55" textLength="103.16" lengthAdjust="spacingAndGlyphs" fill="#000" stroke="#000" stroke-width="1.0" stroke-linejoin="round" >Ground</text>
<text x="1110.56" y="891.90" font-family="Liberation Sans" font-weight="bold" font-size="23.55" textLength="81.42" lengthAdjust="spacingAndGlyphs" fill="#000" stroke="#000" stroke-width="1.0" stroke-linejoin="round" >Spark</text>
<text x="1200.96" y="891.90" font-family="Liberation Sans" font-weight="bold" font-size="23.55" textLength="62.88" lengthAdjust="spacingAndGlyphs" fill="#000" stroke="#000" stroke-width="1.0" stroke-linejoin="round" >Plug</text>
<text x="1462.59" y="1184.90" font-family="Liberation Sans" font-weight="bold" font-size="21.85" textLength="92.30" lengthAdjust="spacingAndGlyphs" fill="#000" stroke="#000" stroke-width="1.0" stroke-linejoin="round" >Ignition</text>
<text x="1562.68" y="1184.90" font-family="Liberation Sans" font-weight="bold" font-size="21.85" textLength="47.19" lengthAdjust="spacingAndGlyphs" fill="#000" stroke="#000" stroke-width="1.0" stroke-linejoin="round" >Coil</text>
<text x="948.44" y="610.90" font-family="Liberation Sans" font-weight="bold" font-size="24.55" textLength="19.27" lengthAdjust="spacingAndGlyphs" fill="#000" stroke="#000" stroke-width="1.0" stroke-linejoin="round" >A</text>
<text x="1021.77" y="609.40" font-family="Liberation Sans" font-weight="bold" font-size="24.55" textLength="18.66" lengthAdjust="spacingAndGlyphs" fill="#000" stroke="#000" stroke-width="1.0" stroke-linejoin="round" >R</text>
<text x="952.78" y="653.50" font-family="Liberation Sans" font-weight="bold" font-size="24.55" textLength="9.64" lengthAdjust="spacingAndGlyphs" fill="#000" stroke="#000" stroke-width="1.0" stroke-linejoin="round" >I</text>
<text x="1022.58" y="653.50" font-family="Liberation Sans" font-weight="bold" font-size="24.55" textLength="19.66" lengthAdjust="spacingAndGlyphs" fill="#000" stroke="#000" stroke-width="1.0" stroke-linejoin="round" >B</text>
<text x="987.16" y="688.10" font-family="Liberation Sans" font-weight="bold" font-size="24.55" textLength="17.03" lengthAdjust="spacingAndGlyphs" fill="#000" stroke="#000" stroke-width="1.0" stroke-linejoin="round" >S</text>
<text x="6.58" y="1324.70" font-family="Liberation Serif" font-weight="bold" font-size="88.34" textLength="17.91" lengthAdjust="spacingAndGlyphs" fill="#cc3a2a" stroke="#cc3a2a" stroke-width="2.4" stroke-linejoin="round" >i</text>
<text x="25.80" y="1324.70" font-family="Liberation Serif" font-weight="bold" font-size="92.84" textLength="30.32" lengthAdjust="spacingAndGlyphs" fill="#cc3a2a" stroke="#cc3a2a" stroke-width="2.4" stroke-linejoin="round" >S</text>
<text x="57.07" y="1324.70" font-family="Liberation Serif" font-weight="bold" font-size="106.34" textLength="37.67" lengthAdjust="spacingAndGlyphs" fill="#cc3a2a" stroke="#cc3a2a" stroke-width="2.4" stroke-linejoin="round" >a</text>
<text x="98.00" y="1324.70" font-family="Liberation Serif" font-weight="bold" font-size="106.34" textLength="30.40" lengthAdjust="spacingAndGlyphs" fill="#cc3a2a" stroke="#cc3a2a" stroke-width="2.4" stroke-linejoin="round" >v</text>
<text x="131.07" y="1324.70" font-family="Liberation Serif" font-weight="bold" font-size="106.34" textLength="35.39" lengthAdjust="spacingAndGlyphs" fill="#cc3a2a" stroke="#cc3a2a" stroke-width="2.4" stroke-linejoin="round" >e</text>
<text x="169.31" y="1324.70" font-family="Liberation Serif" font-weight="bold" font-size="94.04" textLength="33.76" lengthAdjust="spacingAndGlyphs" fill="#cc3a2a" stroke="#cc3a2a" stroke-width="2.4" stroke-linejoin="round" >T</text>
<text x="207.51" y="1324.70" font-family="Liberation Serif" font-weight="bold" font-size="106.34" textLength="26.20" lengthAdjust="spacingAndGlyphs" fill="#cc3a2a" stroke="#cc3a2a" stroke-width="2.4" stroke-linejoin="round" >r</text>
<text x="235.26" y="1324.70" font-family="Liberation Serif" font-weight="bold" font-size="106.34" textLength="36.23" lengthAdjust="spacingAndGlyphs" fill="#cc3a2a" stroke="#cc3a2a" stroke-width="2.4" stroke-linejoin="round" >a</text>
<text x="274.87" y="1324.70" font-family="Liberation Serif" font-weight="bold" font-size="106.34" textLength="30.22" lengthAdjust="spacingAndGlyphs" fill="#cc3a2a" stroke="#cc3a2a" stroke-width="2.4" stroke-linejoin="round" >c</text>
<text x="307.13" y="1324.70" font-family="Liberation Serif" font-weight="bold" font-size="106.34" textLength="17.90" lengthAdjust="spacingAndGlyphs" fill="#cc3a2a" stroke="#cc3a2a" stroke-width="2.4" stroke-linejoin="round" >t</text>
<text x="327.75" y="1324.70" font-family="Liberation Serif" font-weight="bold" font-size="106.34" textLength="37.40" lengthAdjust="spacingAndGlyphs" fill="#cc3a2a" stroke="#cc3a2a" stroke-width="2.4" stroke-linejoin="round" >o</text>
<text x="368.76" y="1324.70" font-family="Liberation Serif" font-weight="bold" font-size="106.34" textLength="23.79" lengthAdjust="spacingAndGlyphs" fill="#cc3a2a" stroke="#cc3a2a" stroke-width="2.4" stroke-linejoin="round" >r</text>
<text x="396.88" y="1324.70" font-family="Liberation Serif" font-weight="bold" font-size="106.34" textLength="24.67" lengthAdjust="spacingAndGlyphs" fill="#cc3a2a" stroke="#cc3a2a" stroke-width="2.4" stroke-linejoin="round" >s</text>
</svg></body></html>
